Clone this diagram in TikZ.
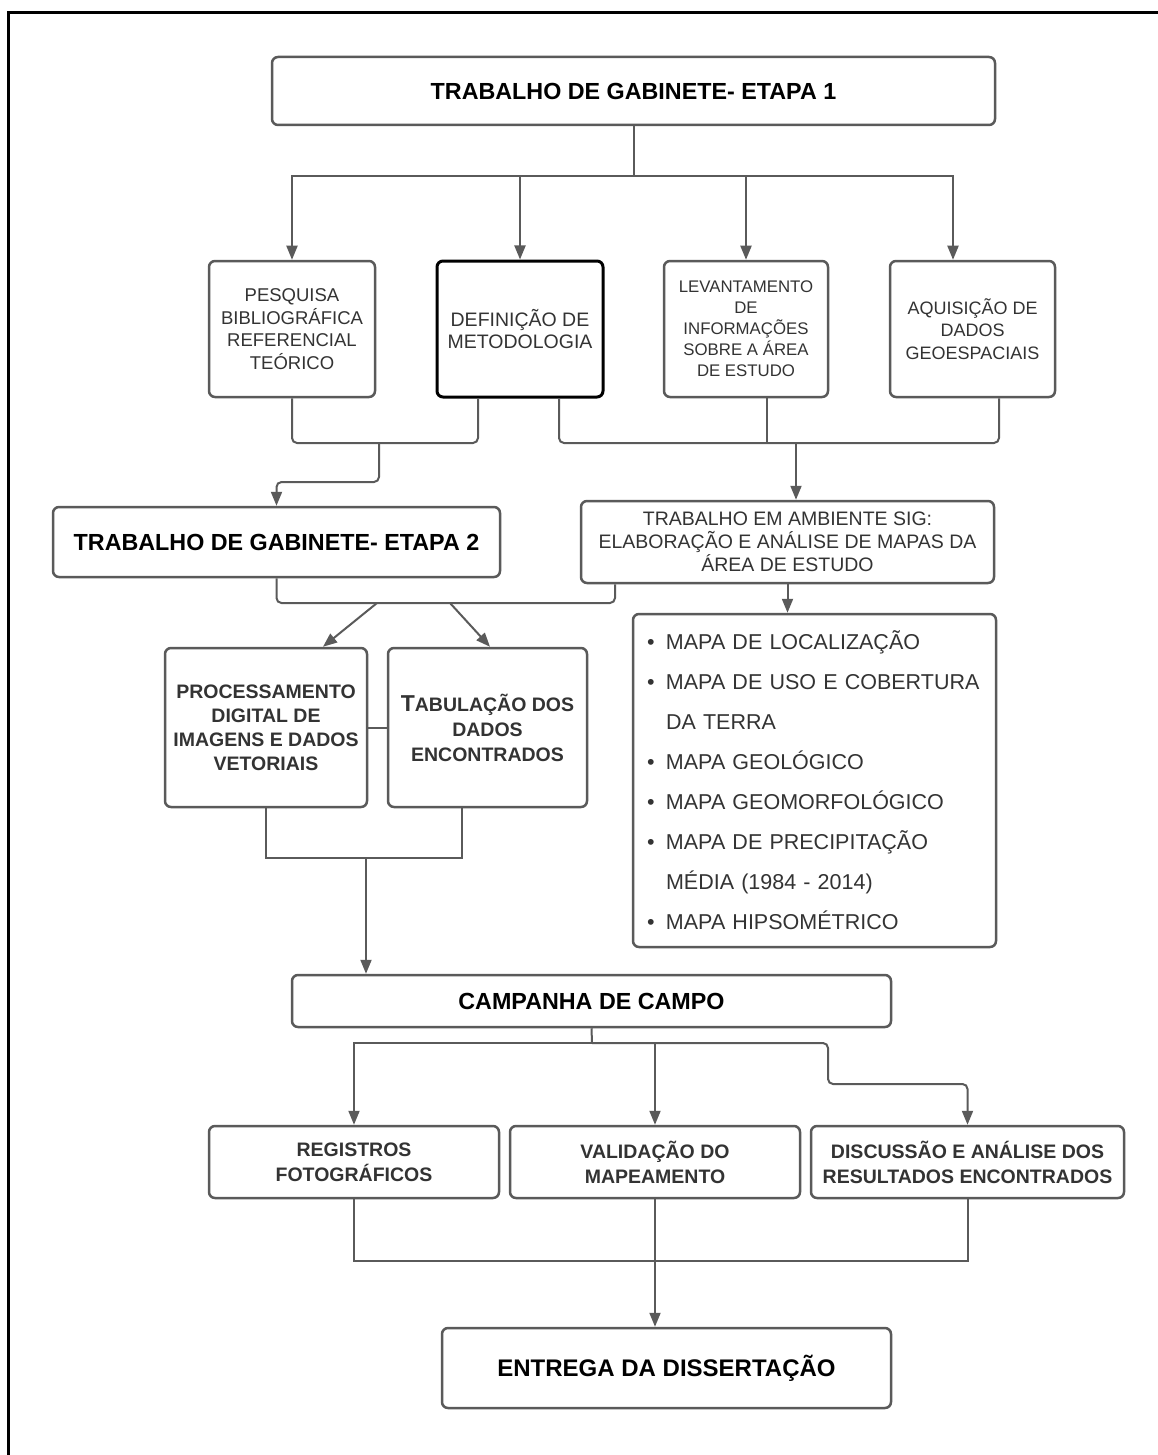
\documentclass[tikz,border=0pt]{standalone}
\usepackage{fontspec}
\setmainfont{Liberation Sans}
\usetikzlibrary{arrows.meta}
\definecolor{lngray}{HTML}{5A5A5A}
\definecolor{txtgray}{HTML}{333333}
\newcommand\fsz[2]{\fontsize{#1}{#2}\selectfont}
\begin{document}
\begin{tikzpicture}[x=1pt,y=-1pt,
  box/.style={draw=lngray, line width=2.5pt, rounded corners=6pt, fill=white, inner sep=0pt, align=center, text=txtgray},
  titlebox/.style={box, text=black, font=\bfseries\fsz{23.3}{28}},
  conn/.style={draw=lngray, line width=2pt},
  arr/.style={conn, -{Triangle[length=14pt,width=11pt]}},
  rc/.style={rounded corners=5pt}]
\useasboundingbox (0,0) rectangle (1158,1455);
\draw[line width=3pt] (8,1455) -- (8,13) -- (1158,13);

% nodes
\node[titlebox, minimum width=723pt, minimum height=68pt] (t1) at (633.5,91) {TRABALHO DE GABINETE- ETAPA 1};
\node[box, minimum width=166pt, minimum height=136pt, font=\fsz{18.5}{22.7}] (a) at (292,329) {PESQUISA\\BIBLIOGRÁFICA\\REFERENCIAL\\TEÓRICO};
\node[box, draw=black, line width=3pt, minimum width=166pt, minimum height=136pt, font=\fsz{19.5}{22}] (b) at (520,329) {DEFINIÇÃO DE\\METODOLOGIA};
\node[box, minimum width=164pt, minimum height=136pt, font=\fsz{16.8}{21}] (c) at (746,329) {LEVANTAMENTO\\DE\\INFORMAÇÕES\\SOBRE A ÁREA\\DE ESTUDO};
\node[box, minimum width=165pt, minimum height=136pt, font=\fsz{18}{22.5}] (d) at (972.5,329) {AQUISIÇÃO DE\\DADOS\\GEOESPACIAIS};
\node[titlebox, minimum width=447pt, minimum height=70pt] (e2) at (276.5,542) {TRABALHO DE GABINETE- ETAPA 2};
\node[box, minimum width=413pt, minimum height=82pt, font=\fsz{19.5}{23}] (sig) at (787.5,542) {TRABALHO EM AMBIENTE SIG:\\ELABORAÇÃO E ANÁLISE DE MAPAS DA\\ÁREA DE ESTUDO};
\node[box, minimum width=202pt, minimum height=159pt, font=\bfseries\fsz{19.5}{24}] (proc) at (266,727.5) {PROCESSAMENTO\\DIGITAL DE\\IMAGENS E DADOS\\VETORIAIS};
\node[box, minimum width=199pt, minimum height=159pt, font=\bfseries\fsz{19.5}{25}] (tab) at (487.5,727.5) {{\fsz{23}{25}T}ABULAÇÃO DOS\\DADOS\\ENCONTRADOS};
\node[box, align=left, text width=335pt, minimum width=363pt, minimum height=333pt, font=\fsz{21.5}{40}] (list) at (814.5,780.5) {%
\makebox[19pt][l]{•}MAPA DE LOCALIZAÇÃO\\
\makebox[19pt][l]{•}MAPA DE USO E COBERTURA\\
\hspace*{19pt}DA TERRA\\
\makebox[19pt][l]{•}MAPA GEOLÓGICO\\
\makebox[19pt][l]{•}MAPA GEOMORFOLÓGICO\\
\makebox[19pt][l]{•}MAPA DE PRECIPITAÇÃO\\
\hspace*{19pt}MÉDIA (1984 - 2014)\\
\makebox[19pt][l]{•}MAPA HIPSOMÉTRICO};
\node[titlebox, minimum width=599pt, minimum height=52pt] (camp) at (591.5,1001) {CAMPANHA DE CAMPO};
\node[box, minimum width=290pt, minimum height=72pt, font=\bfseries\fsz{19.5}{25}] (r1) at (354,1162) {REGISTROS\\FOTOGRÁFICOS};
\node[box, minimum width=290pt, minimum height=72pt, font=\bfseries\fsz{19.5}{25}] (r2) at (655,1162) {VALIDAÇÃO DO\\MAPEAMENTO};
\node[box, minimum width=313pt, minimum height=72pt, font=\bfseries\fsz{19.5}{25}] (r3) at (967.5,1162) {DISCUSSÃO E ANÁLISE DOS\\RESULTADOS ENCONTRADOS};
\node[titlebox, minimum width=449pt, minimum height=80pt, font=\bfseries\fsz{24}{28}] (ent) at (666.5,1368) {ENTREGA DA DISSERTAÇÃO};

% connectors
\coordinate (j1) at (633.5,176);
\draw[conn] (t1.south) -- (j1);
\draw[arr] (j1) -| (a.north);
\draw[arr] (j1) -| (b.north);
\draw[arr] (j1) -| (c.north);
\draw[arr] (j1) -| ([xshift=-19.5pt]d.north);

\coordinate (m1) at (379,443);
\coordinate (m1b) at (379,482);
\draw[conn,rc] (a.south) |- (m1) -| ([xshift=-42pt]b.south);
\draw[arr,rc] (m1) -- (m1b) -| (e2.north);

\coordinate (m2) at (796,443);
\draw[conn,rc] ([xshift=39pt]b.south) |- (m2) -| ([xshift=26.5pt]d.south);
\draw[conn] ([xshift=21pt]c.south) -- ([xshift=21pt]c.south |- m2);
\draw[arr] (m2) -- (m2 |- sig.north);

\coordinate (m3) at (446,603);
\draw[conn,rc] (e2.south) |- (m3) -| ([xshift=-172.5pt]sig.south);
\coordinate (d1) at (377,603);
\coordinate (d2) at (450,603);
\draw[arr] (d1) -- ([xshift=57pt]proc.north);
\draw[arr] (d2) -- ([xshift=2.5pt]tab.north);

\draw[arr] (sig.south) -- (sig.south |- list.north);
\draw[conn] (proc.east) -- (tab.west);

\coordinate (m4) at (366,858);
\draw[conn] (proc.south) |- (m4) -| ([xshift=-25.5pt]tab.south);
\draw[arr] (m4) -- (m4 |- camp.north);

\coordinate (m5) at (592,1043);
\coordinate (m5b) at (828,1084);
\draw[conn] (camp.south) -- (m5);
\draw[arr] (m5) -| (r1.north);
\draw[arr] (m5) -| (r2.north);
\draw[arr,rc] (m5) -| (m5b) -| (r3.north);

\coordinate (m6) at (655,1261);
\draw[conn] (r1.south) |- (m6) -| (r3.south);
\draw[arr] (r2.south) -- (r2.south |- ent.north);
\end{tikzpicture}
\end{document}
